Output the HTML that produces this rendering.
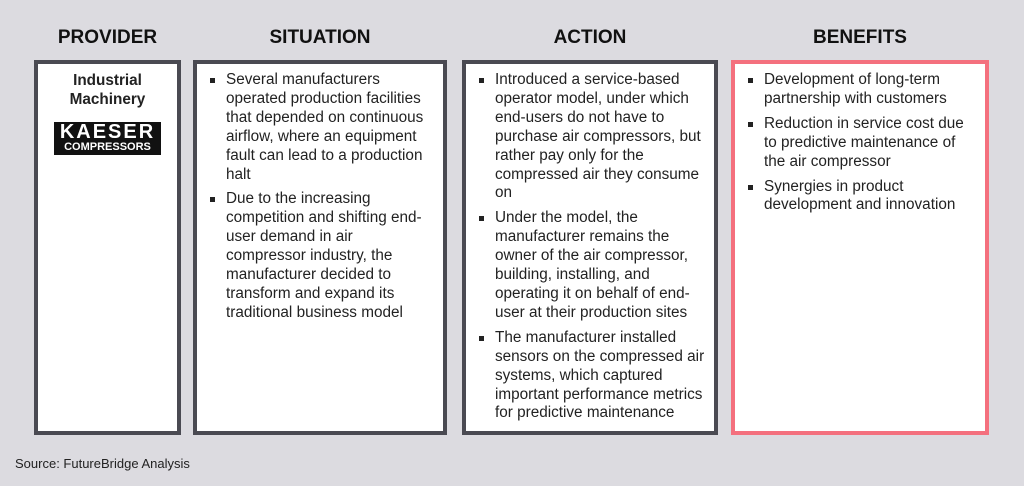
<!DOCTYPE html>
<html><head><style>
body{margin:0;width:1024px;height:486px;background:#dcdbe0;font-family:"Liberation Sans",Arial,sans-serif;position:relative;overflow:hidden;color:#222}
.h{position:absolute;top:27px;font-weight:bold;font-size:19px;text-align:center;color:#111}
.b{position:absolute;top:60px;height:375px;box-sizing:border-box;border:4px solid #4a4a52;background:#fff;padding-right:10px}
.b ul{margin:0;padding:0;list-style:none}
.b li{position:relative;padding-left:29px;font-size:15.3px;line-height:18.9px;margin-bottom:6px}
.b li:before{content:"";position:absolute;left:13px;top:7px;width:5px;height:5px;background:#222}
</style></head><body>
<div class="h" style="left:34px;width:147px">PROVIDER</div>
<div class="h" style="left:193px;width:254px">SITUATION</div>
<div class="h" style="left:462px;width:256px">ACTION</div>
<div class="h" style="left:731px;width:258px">BENEFITS</div>

<div class="b" style="left:34px;width:147px;padding-right:0">
<div style="text-align:center;font-weight:bold;font-size:15.3px;line-height:19px;margin-top:7px">Industrial<br>Machinery</div>
<div style="margin:13px auto 0;width:107px;height:33px;background:#111;color:#fff;text-align:center;font-weight:bold;box-sizing:border-box;padding-top:1px">
<div style="font-size:20px;line-height:18px;letter-spacing:2px">KAESER</div>
<div style="font-size:11px;line-height:12px">COMPRESSORS</div></div>
</div>

<div class="b" style="left:193px;width:254px;padding-top:7px"><ul>
<li>Several manufacturers operated production facilities that depended on continuous airflow, where an equipment fault can lead to a production halt</li>
<li>Due to the increasing competition and shifting end-user demand in air compressor industry, the manufacturer decided to transform and expand its traditional business model</li>
</ul></div>

<div class="b" style="left:462px;width:256px;padding-top:7px;padding-right:4px"><ul>
<li>Introduced a service-based operator model, under which end-users do not have to purchase air compressors, but rather pay only for the compressed air they consume on</li>
<li>Under the model, the manufacturer remains the owner of the air compressor, building, installing, and operating it on behalf of end-user at their production sites</li>
<li>The manufacturer installed sensors on the compressed air systems, which captured important performance metrics for predictive maintenance</li>
</ul></div>

<div class="b" style="left:731px;width:258px;padding-top:7px;border-color:#f4707e"><ul>
<li>Development of long-term partnership with customers</li>
<li>Reduction in service cost due to predictive maintenance of the air compressor</li>
<li>Synergies in product development and innovation</li>
</ul></div>

<div style="position:absolute;left:15px;top:456px;font-size:13px;color:#222">Source: FutureBridge Analysis</div>
</body></html>
